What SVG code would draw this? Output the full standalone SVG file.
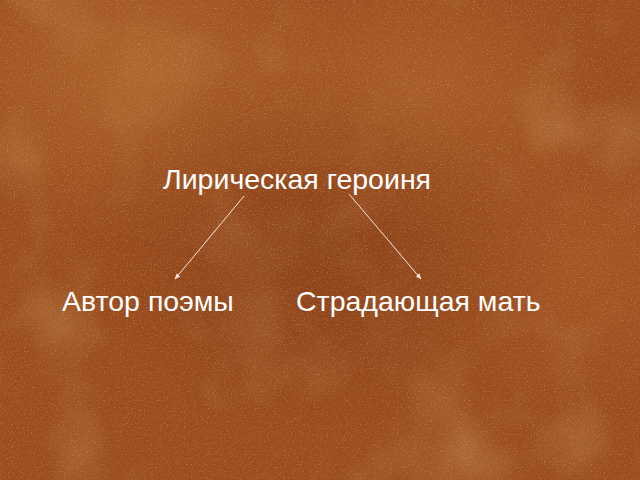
<svg xmlns="http://www.w3.org/2000/svg" width="640" height="480" viewBox="0 0 640 480">
<defs>
<style>
.lbl{font-family:"Liberation Sans",Arial,sans-serif;font-size:28.5px;fill:#ffffff}
.conn{stroke:#f4e6dc;stroke-width:1;fill:none}
</style>
<marker id="ah" viewBox="0 0 10 10" refX="9" refY="5" markerWidth="6" markerHeight="6" orient="auto">
<path d="M0,1 L10,5 L0,9 z" fill="#f4e6dc"/>
</marker>
<radialGradient id="g1" cx="0.2" cy="0.15" r="0.35">
<stop offset="0" stop-color="#c07633" stop-opacity="0.55"/>
<stop offset="1" stop-color="#c07633" stop-opacity="0"/>
</radialGradient>
<radialGradient id="g2" cx="0.65" cy="0.2" r="0.3">
<stop offset="0" stop-color="#be7231" stop-opacity="0.5"/>
<stop offset="1" stop-color="#be7231" stop-opacity="0"/>
</radialGradient>
<radialGradient id="g3" cx="0.5" cy="0.52" r="0.4">
<stop offset="0" stop-color="#7a3210" stop-opacity="0.45"/>
<stop offset="1" stop-color="#7a3210" stop-opacity="0"/>
</radialGradient>
<radialGradient id="g4" cx="0.9" cy="0.55" r="0.3">
<stop offset="0" stop-color="#b4622a" stop-opacity="0.45"/>
<stop offset="1" stop-color="#b4622a" stop-opacity="0"/>
</radialGradient>
<filter id="tex" x="0" y="0" width="100%" height="100%">
<feTurbulence type="fractalNoise" baseFrequency="0.8" numOctaves="2" seed="3" result="n"/>
<feColorMatrix type="matrix" values="0 0 0 0 0.3  0 0 0 0 0.12  0 0 0 0 0.04  0 0 0 -1.5 1.0" in="n"/>
</filter>
<filter id="tex2" x="0" y="0" width="100%" height="100%">
<feTurbulence type="fractalNoise" baseFrequency="0.7" numOctaves="2" seed="11" result="n"/>
<feColorMatrix type="matrix" values="0 0 0 0 0.85  0 0 0 0 0.55  0 0 0 0 0.28  0 0 0 2 -1.1" in="n"/>
</filter>
<filter id="blot" x="0" y="0" width="100%" height="100%">
<feTurbulence type="fractalNoise" baseFrequency="0.01" numOctaves="3" seed="7" result="n"/>
<feColorMatrix type="matrix" values="0 0 0 0 0.74  0 0 0 0 0.43  0 0 0 0 0.18  0 0 0 1.2 -0.6" in="n"/>
</filter>
</defs>
<g id="background">
<rect width="640" height="480" fill="#9c4c1d"/>
<rect width="640" height="480" filter="url(#blot)" opacity="0.6"/>
<rect width="640" height="480" fill="url(#g1)"/>
<rect width="640" height="480" fill="url(#g2)"/>
<rect width="640" height="480" fill="url(#g4)"/>
<rect width="640" height="480" fill="url(#g3)"/>
<rect width="640" height="480" filter="url(#tex)" opacity="0.4"/>
<rect width="640" height="480" filter="url(#tex2)" opacity="0.5"/>
</g>
<g id="connectors">
<line class="conn" x1="244" y1="196" x2="175" y2="279" marker-end="url(#ah)"/>
<line class="conn" x1="349" y1="194" x2="421" y2="279" marker-end="url(#ah)"/>
</g>
<g id="node-heroine">
<text class="lbl" x="163" y="189">Лирическая героиня</text>
</g>
<g id="node-author">
<text class="lbl" x="62" y="311">Автор поэмы</text>
</g>
<g id="node-mother">
<text class="lbl" x="296" y="311">Страдающая мать</text>
</g>
</svg>
